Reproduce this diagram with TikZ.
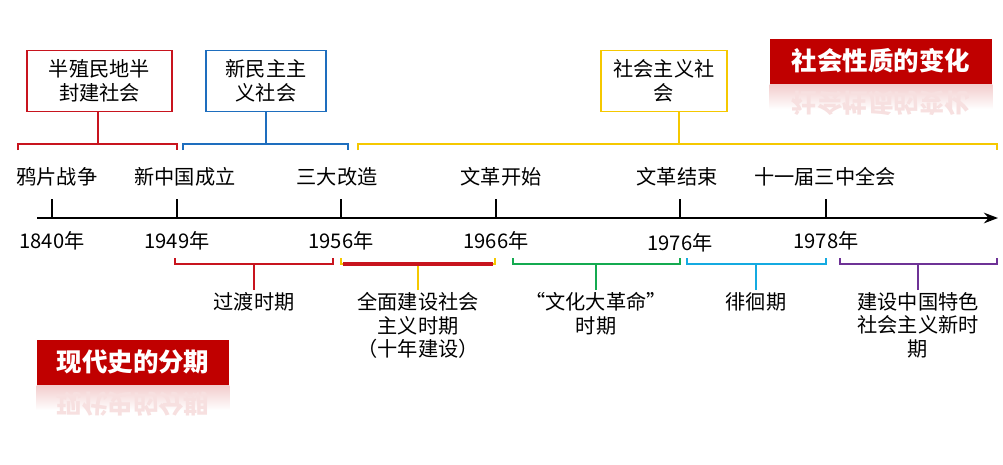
\documentclass[tikz,border=0pt]{standalone}
\usepackage{fontspec}
\newfontfamily\cjk{Noto Sans CJK SC}
\usetikzlibrary{arrows.meta}
\definecolor{dred}{RGB}{192,0,0}
\definecolor{tred}{RGB}{200,20,30}
\definecolor{tblue}{RGB}{30,110,190}
\definecolor{tyel}{RGB}{245,200,0}
\definecolor{tgreen}{RGB}{20,170,80}
\definecolor{tcyan}{RGB}{20,170,225}
\definecolor{tpurp}{RGB}{110,50,150}
\begin{document}
\begin{tikzpicture}[x=0.02cm,y=-0.02cm,font=\cjk\fontsize{11.5pt}{13.5pt}\selectfont,
  lab/.style={align=center,inner sep=1pt},
  era/.style={draw,thick,align=center,minimum width=#1*0.02cm,minimum height=1.22cm,inner sep=2pt},
  title/.style={fill=dred,text=white,font=\cjk\bfseries\fontsize{14.5pt}{16pt}\selectfont,minimum height=0.9cm,inner sep=2pt},
  refl/.style={top color=dred!20,bottom color=white,draw=none,minimum height=0.5cm}]
\useasboundingbox (0,0) rectangle (1003,464);
% axis
\coordinate (s) at (37,218); \coordinate (e) at (998,218);
\draw[line width=1.6pt,-{Stealth[length=8pt]}] (s) -- (e);
\foreach \n/\x/\ev/\ex/\yr/\yy in {a/52/鸦片战争/57/1840年/241,b/177/新中国成立/185/1949年/241,c/341/三大改造/337/1956年/241,d/496/文革开始/501/1966年/241,f/680/文革结束/677/1976年/243,g/826/十一届三中全会/825/1978年/241}{
  \coordinate (t\n) at (\x,218);
  \coordinate (u\n) at (\x,199);
  \draw[line width=1.3pt] (u\n) -- (t\n);
  \node[lab] (ev\n) at (\ex,177) {\ev};
  \node[lab] (yr\n) at (\x,\yy) {\yr};
}
% upper eras
\node[era=145,draw=tred] (e1) at (99.5,81) {半殖民地半\\封建社会};
\node[era=120,draw=tblue] (e2) at (266,81) {新民主主\\义社会};
\node[era=126,draw=tyel] (e3) at (664,81) {社会主义社\\会};
\foreach \c/\l/\r/\m/\bx in {tred/18/177/98/e1,tblue/183/348/266/e2,tyel/358/997/679/e3}{
  \coordinate (bt\bx) at (\m,144);
  \draw[\c,line width=1.5pt] (\l,150) -- (\l,144) -- (\r,144) -- (\r,150);
  \draw[\c,line width=1.5pt] (bt\bx) -- (bt\bx |- \bx.south);
}
% lower periods
\foreach \c/\l/\r/\m/\t/\n in {tred/175/333/254/过渡时期/p1,tyel/341/495/418/全面建设社会\\主义时期\\（十年建设）/p2,tgreen/513/680/596/“文化大革命”\\时期/p3,tcyan/687/826/756/徘徊期/p4,tpurp/840/997/918/建设中国特色\\社会主义新时\\期/p5}{
  \node[lab,anchor=north] (\n) at (\m,290) {\t};
  \draw[\c,line width=1.5pt] (\l,258) -- (\l,264) -- (\r,264) -- (\r,258);
  \draw[\c,line width=1.5pt] (\m,264) -- (\n.north);
}
\draw[tred,line width=2pt] (343,264) -- (493,264);
% titles
\node[title,minimum width=4.46cm] (T1) at (881,61) {社会性质的变化};
\node[refl,minimum width=4.46cm,anchor=north] (R1) at (T1.south) {};
\node[text=dred!12,font=\cjk\bfseries\fontsize{14.5pt}{16pt}\selectfont,yscale=-1] (R1t) at (881,103) {社会性质的变化};
\node[title,minimum width=3.86cm] (T2) at (133,362) {现代史的分期};
\node[refl,minimum width=3.86cm,anchor=north] (R2) at (T2.south) {};
\node[text=dred!12,font=\cjk\bfseries\fontsize{14.5pt}{16pt}\selectfont,yscale=-1] (R2t) at (133,404) {现代史的分期};
\end{tikzpicture}
\end{document}
